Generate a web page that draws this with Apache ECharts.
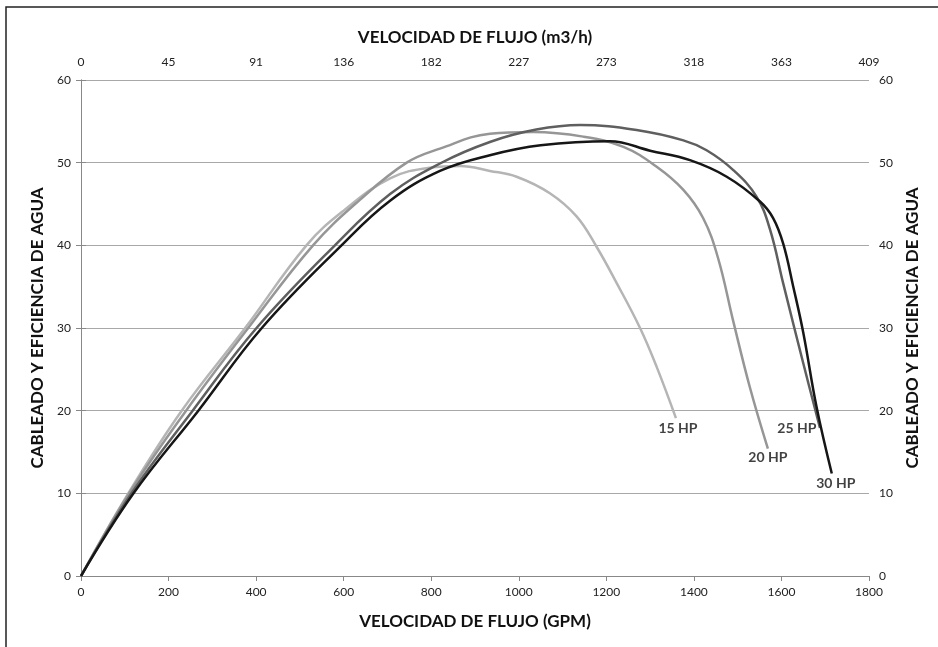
<!DOCTYPE html>
<html>
<head>
<meta charset="utf-8">
<script src="https://cdn.jsdelivr.net/npm/echarts@6/dist/echarts.min.js"></script>
<style>
html,body{margin:0;padding:0;background:#fff;}
#c{width:938px;height:647px;}
</style>
</head>
<body>
<div id="c"></div>
<script>
// Bottom axis ticks (GPM) and top axis tick labels (m3/h)
const gpmTicks = [0,200,400,600,800,1000,1200,1400,1600,1800];
const m3hLabels = ['0','45','91','136','182','227','273','318','363','409'];

const hp15x = [0,108,230,375,515,600,706,797,866,934,995,1071,1132,1178,1224,1277,1315,1359];
const hp15y = [0,10,20,30,40,44.2,48.1,49.4,49.6,49.0,48.3,46.3,43.5,39.8,35.4,30,25.3,19.1];

const hp20x = [0,110,240,382,530,637,744,820,934,1033,1147,1239,1315,1376,1421,1455,1490,1528,1569];
const hp20y = [0,10,20,30,40,45.5,50,51.7,53.5,53.7,53.15,51.9,49.5,46.7,43.3,38.5,30.8,22.8,15.4];

const hp25x = [0,115,255,401,580,706,820,934,1040,1140,1269,1376,1429,1490,1543,1574,1604,1650,1688];
const hp25y = [0,10,20,30,40,46.2,49.9,52.5,54,54.55,53.95,52.7,51.5,49.1,45.9,41.9,35.4,25.7,17.9];

const hp30x = [0,120,268,413,595,706,820,934,1050,1208,1300,1391,1475,1551,1581,1604,1627,1650,1680,1715];
const hp30y = [0,10,20,30,40,45.4,49.0,50.9,52.1,52.6,51.45,50.3,48.3,45.3,43.3,40.2,35,29.4,20.5,12.4];

const seriesNames = ['15 HP','20 HP','25 HP','30 HP'];

const FONT = 'Lato, "Open Sans", sans-serif';

function lineSeries(xs, ys, name, color, width) {
  return {
    type: 'line', name: name, data: xs.map((x,i)=>[x, ys[i]]), smooth: 0.4,
    showSymbol: false, symbol: 'none',
    lineStyle: {color: color, width: width},
    itemStyle: {color: color},
    emphasis: {disabled: true},
    silent: true, z: 3
  };
}
function labelSeries(xs, ys, name, lbl) {
  const n = xs.length - 1;
  return {
    type: 'scatter', data: [[xs[n], ys[n]]], symbolSize: 1,
    itemStyle: {color: 'rgba(0,0,0,0)'}, silent: true, z: 5,
    label: Object.assign({
      show: true, formatter: name, color: '#111',
      fontFamily: FONT, fontWeight: 'bold', fontSize: 14
    }, lbl)
  };
}

const axisLineStyle = {lineStyle: {color: '#888', width: 1}};
const labelStyle = {color: '#222', fontFamily: FONT, fontSize: 12};
const nameStyle = {color: '#111', fontFamily: FONT, fontSize: 17, fontWeight: 'bold'};

const chart = echarts.init(document.getElementById('c'), null, {renderer: 'canvas'});
chart.setOption({
  animation: false,
  backgroundColor: '#fff',
  grid: {left: 81, right: 69, top: 80, bottom: 71, containLabel: false},
  graphic: [{
    type: 'rect', silent: true, z: 100,
    shape: {x: 6, y: 7, width: 960, height: 700},
    style: {fill: 'none', stroke: '#222', lineWidth: 1.5}
  }],
  xAxis: [{
    type: 'value', position: 'bottom', min: 0, max: 1800, interval: 200,
    name: 'VELOCIDAD DE FLUJO (GPM)', nameLocation: 'middle', nameGap: 37,
    nameTextStyle: nameStyle,
    axisLine: axisLineStyle,
    axisTick: {show: true, inside: false, length: 5, lineStyle: {color: '#888'}},
    axisLabel: Object.assign({margin: 10, formatter: v => String(v)}, labelStyle),
    splitLine: {show: false}
  }, {
    type: 'value', position: 'top', min: 0, max: 1800, interval: 200,
    name: 'VELOCIDAD DE FLUJO (m3/h)', nameLocation: 'middle', nameGap: 34,
    nameTextStyle: nameStyle,
    axisLine: axisLineStyle,
    axisTick: {show: true, inside: true, length: 5, lineStyle: {color: '#888'}},
    axisLabel: Object.assign({margin: 12, formatter: v => m3hLabels[gpmTicks.indexOf(v)]}, labelStyle),
    splitLine: {show: false}
  }],
  yAxis: [{
    type: 'value', position: 'left', min: 0, max: 60, interval: 10,
    name: 'CABLEADO Y EFICIENCIA DE AGUA', nameLocation: 'middle', nameGap: 34,
    nameRotate: 90, nameTextStyle: nameStyle,
    axisLine: {show: true, lineStyle: {color: '#888'}},
    axisTick: {show: true, length: 5, lineStyle: {color: '#888'}},
    axisLabel: Object.assign({margin: 10}, labelStyle),
    splitLine: {show: true, lineStyle: {color: '#a8a8a8', width: 1}}
  }, {
    type: 'value', position: 'right', min: 0, max: 60, interval: 10,
    name: 'CABLEADO Y EFICIENCIA DE AGUA', nameLocation: 'middle', nameGap: 35,
    nameRotate: 90, nameTextStyle: nameStyle,
    axisLine: {show: true, lineStyle: {color: '#888'}},
    axisTick: {show: true, length: 5, lineStyle: {color: '#888'}},
    axisLabel: Object.assign({margin: 10}, labelStyle),
    splitLine: {show: false}
  }],
  series: [
    lineSeries(hp15x, hp15y, seriesNames[0], '#b5b5b5', 2.5),
    lineSeries(hp20x, hp20y, seriesNames[1], '#969696', 2.5),
    lineSeries(hp25x, hp25y, seriesNames[2], '#5f5f5f', 2.5),
    lineSeries(hp30x, hp30y, seriesNames[3], '#161616', 2.5),
    labelSeries(hp15x, hp15y, seriesNames[0], {position: 'bottom', distance: 3, offset: [2, 0]}),
    labelSeries(hp20x, hp20y, seriesNames[1], {position: 'bottom', distance: 1, offset: [0, 0]}),
    labelSeries(hp25x, hp25y, seriesNames[2], {position: 'left', distance: 3, offset: [0, 0]}),
    labelSeries(hp30x, hp30y, seriesNames[3], {position: 'bottom', distance: 2, offset: [4, 0]})
  ]
});
</script>
</body>
</html>
